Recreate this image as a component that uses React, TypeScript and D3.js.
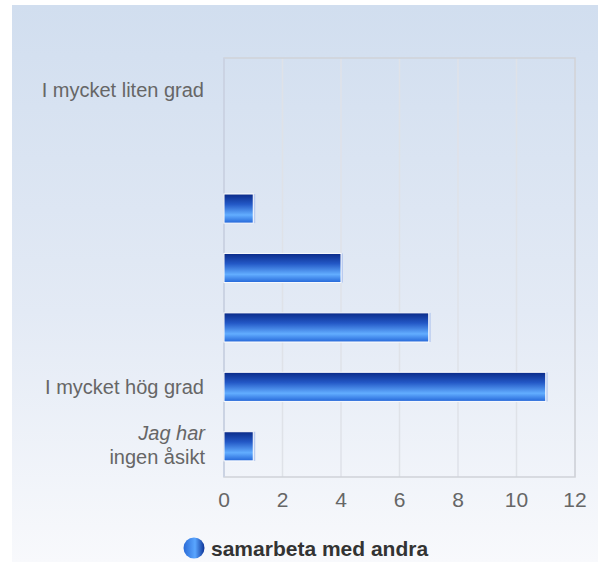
import React from "react";
import * as d3 from "d3";

// categories, top to bottom; empty strings are unlabelled rows
const categories = ["I mycket liten grad", "r2", "r3", "r4", "r5", "I mycket hög grad", "Jag har ingen åsikt"];
const categoryLabels = ["I mycket liten grad", "", "", "", "", "I mycket hög grad", ""];
const values = [0, 0, 1, 4, 7, 11, 1];
const xTicks = [0, 2, 4, 6, 8, 10, 12];
const seriesName = "samarbeta med andra";

const W = 598;
const H = 562;

export default function App() {
  const x = d3.scaleLinear().domain([0, 12]).range([224, 575]);
  const y = d3
    .scaleBand<string>()
    .domain(categories)
    .range([60, 476])
    .paddingInner(0.51)
    .paddingOuter(0.255);

  const plotTop = 58;
  const plotBottom = 477;
  const font = "'Liberation Sans', Arial, sans-serif";

  return (
    <div style={{ position: "absolute", left: 0, top: 0 }}>
      <svg width={W} height={H} style={{ display: "block" }}>
        <defs>
          <linearGradient id="bg" x1="0" y1="0" x2="0" y2="1">
            <stop offset="0%" stopColor="#d1deef" />
            <stop offset="55%" stopColor="#e3eaf5" />
            <stop offset="100%" stopColor="#f8f9fc" />
          </linearGradient>
          <linearGradient id="bar" x1="0" y1="0" x2="0" y2="1">
            <stop offset="0%" stopColor="#0a2a88" />
            <stop offset="35%" stopColor="#2358c6" />
            <stop offset="72%" stopColor="#62adff" />
            <stop offset="100%" stopColor="#2466d8" />
          </linearGradient>
          <linearGradient id="dot" x1="0" y1="0" x2="1" y2="0">
            <stop offset="0%" stopColor="#2a6ad6" />
            <stop offset="55%" stopColor="#5aa6ff" />
            <stop offset="100%" stopColor="#0c3296" />
          </linearGradient>
        </defs>

        <rect x={12} y={5} width={W - 12} height={H - 5} fill="url(#bg)" />

        {/* grid */}
        {xTicks.map((t) => (
          <line
            key={t}
            x1={x(t)}
            x2={x(t)}
            y1={plotTop}
            y2={plotBottom}
            stroke="#dfe2e8"
            strokeWidth={1.5}
          />
        ))}
        <rect
          x={x(0)}
          y={plotTop}
          width={x(12) - x(0)}
          height={plotBottom - plotTop}
          fill="none"
          stroke="#cfd2d8"
          strokeWidth={1.5}
        />
        <line x1={x(0)} x2={x(0)} y1={plotTop} y2={plotBottom} stroke="#cbd3e3" strokeWidth={2} />

        {/* bars */}
        {categories.map((c, i) =>
          values[i] > 0 ? (
            <g key={c}>
              <rect
                x={x(0) + 2}
                y={y(c)!}
                width={x(values[i]) - x(0)}
                height={y.bandwidth()}
                fill="#b9cbf0"
              />
              <rect
                x={x(0)}
                y={y(c)!}
                width={x(values[i]) - x(0)}
                height={y.bandwidth()}
                fill="url(#bar)"
                stroke="#ffffff"
                strokeWidth={1}
              />
            </g>
          ) : null
        )}

        {/* category labels */}
        {categories.map((c, i) =>
          categoryLabels[i] ? (
            <text
              key={c}
              x={204}
              y={y(c)! + y.bandwidth() / 2}
              dy="0.35em"
              textAnchor="end"
              fontFamily={font}
              fontSize={20}
              fill="#666666"
            >
              {categoryLabels[i]}
            </text>
          ) : null
        )}
        <text
          x={205}
          y={y(categories[6])! + y.bandwidth() / 2}
          textAnchor="end"
          fontFamily={font}
          fontSize={20}
          fill="#666666"
        >
          <tspan x={205} dy="-0.3em" fontStyle="italic">Jag har</tspan>
          <tspan x={205} dy="1.2em">ingen åsikt</tspan>
        </text>

        {/* x tick labels */}
        {xTicks.map((t) => (
          <text
            key={t}
            x={x(t)}
            y={507}
            textAnchor="middle"
            fontFamily={font}
            fontSize={21}
            fill="#666666"
          >
            {t}
          </text>
        ))}

        {/* legend */}
        <circle cx={194} cy={548} r={10.5} fill="url(#dot)" />
        <text x={211} y={556} fontFamily={font} fontSize={21} fontWeight="bold" fill="#333333">
          {seriesName}
        </text>
      </svg>
    </div>
  );
}
